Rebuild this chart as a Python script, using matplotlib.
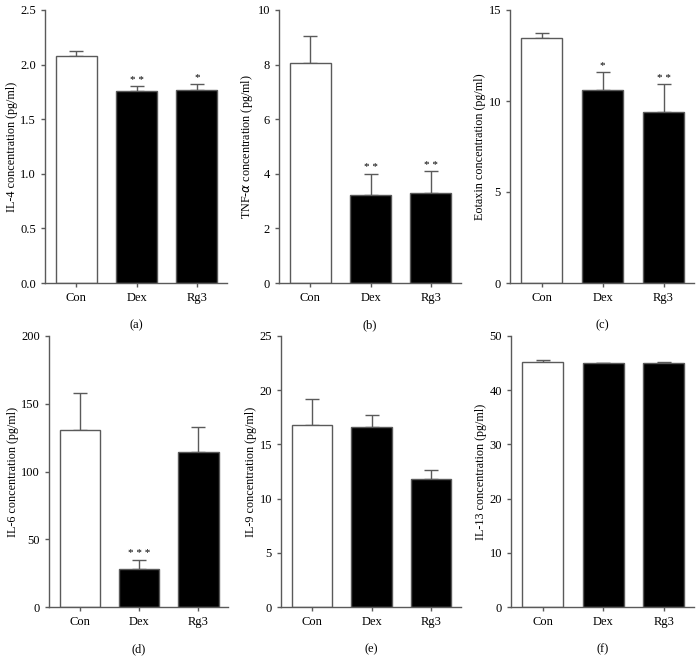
import matplotlib
matplotlib.use('Agg')
import matplotlib.pyplot as plt

plt.rcParams['font.family'] = ['Liberation Serif', 'DejaVu Serif']
plt.rcParams['font.size'] = 9

# datos
grupos = ['Con', 'Dex', 'Rg3']

il4 = [2.08, 1.755, 1.763]
il4_err = [0.045, 0.045, 0.062]
il4_sig = ['', '* *', '*']

tnf = [8.05, 3.21, 3.31]
tnf_err = [1.01, 0.80, 0.78]
tnf_sig = ['', '* *', '* *']

eotaxin = [13.47, 10.59, 9.41]
eotaxin_err = [0.26, 1.03, 1.53]
eotaxin_sig = ['', '*', '* *']

il6 = [130.9, 28.3, 114.6]
il6_err = [27.3, 6.6, 18.2]
il6_sig = ['', '* * *', '']

il9 = [16.79, 16.57, 11.78]
il9_err = [2.40, 1.14, 0.86]
il9_sig = ['', '', '']

il13 = [45.2, 45.0, 45.0]
il13_err = [0.3, 0.1, 0.2]
il13_sig = ['', '', '']

paneles = [
    (il4, il4_err, il4_sig, 'IL-4 concentration (pg/ml)', 2.5, [0.0, 0.5, 1.0, 1.5, 2.0, 2.5], '%.1f', '(a)'),
    (tnf, tnf_err, tnf_sig, 'TNF-$\\alpha$ concentration (pg/ml)', 10, [0, 2, 4, 6, 8, 10], '%d', '(b)'),
    (eotaxin, eotaxin_err, eotaxin_sig, 'Eotaxin concentration (pg/ml)', 15, [0, 5, 10, 15], '%d', '(c)'),
    (il6, il6_err, il6_sig, 'IL-6 concentration (pg/ml)', 200, [0, 50, 100, 150, 200], '%d', '(d)'),
    (il9, il9_err, il9_sig, 'IL-9 concentration (pg/ml)', 25, [0, 5, 10, 15, 20, 25], '%d', '(e)'),
    (il13, il13_err, il13_sig, 'IL-13 concentration (pg/ml)', 50, [0, 10, 20, 30, 40, 50], '%d', '(f)'),
]

# posiciones de los ejes en pixeles (x0, x1, y_arriba, y_abajo)
W, H = 699, 663
cajas = [
    (45, 227, 10, 283), (279, 461, 10, 283), (510, 694, 10, 283),
    (49, 228, 336, 607), (281, 461, 336, 607), (511, 694, 336, 607),
]

gris = '#5a5a5a'
fig = plt.figure(figsize=(W / 100, H / 100), dpi=100)

for (vals, errs, sigs, ylabel, ymax, yticks, fmt, letra), (x0, x1, y0, y1) in zip(paneles, cajas):
    ax = fig.add_axes([x0 / W, 1 - y1 / H, (x1 - x0) / W, (y1 - y0) / H])
    x = range(len(grupos))
    ax.bar(x, vals, width=0.68, color=['white', 'black', 'black'],
           edgecolor=gris, linewidth=1.0, zorder=2)
    ax.errorbar(x, vals, yerr=[[0] * 3, errs], fmt='none', ecolor=gris,
                elinewidth=1.0, capsize=5, capthick=1.0, zorder=1)
    for xi, v, e, s in zip(x, vals, errs, sigs):
        if s:
            ax.annotate(s, (xi, v + e), xytext=(0, 1), textcoords='offset points',
                        ha='center', va='bottom', fontsize=8)
    ax.set_xlim(-0.52, 2.5)
    ax.set_ylim(0, ymax)
    ax.set_yticks(yticks)
    ax.set_yticklabels([fmt % t for t in yticks])
    ax.set_xticks(list(x))
    ax.set_xticklabels(grupos)
    ax.set_ylabel(ylabel, fontsize=8.7, labelpad=1.5)
    for lado in ['top', 'right']:
        ax.spines[lado].set_visible(False)
    for lado in ['left', 'bottom']:
        ax.spines[lado].set_color(gris)
        ax.spines[lado].set_linewidth(1.0)
    ax.tick_params(colors=gris, labelcolor='black', length=3, width=1.0, labelsize=9)
    ax.set_xlabel(letra, fontsize=9, labelpad=11)

plt.savefig('out.png', dpi=100)
